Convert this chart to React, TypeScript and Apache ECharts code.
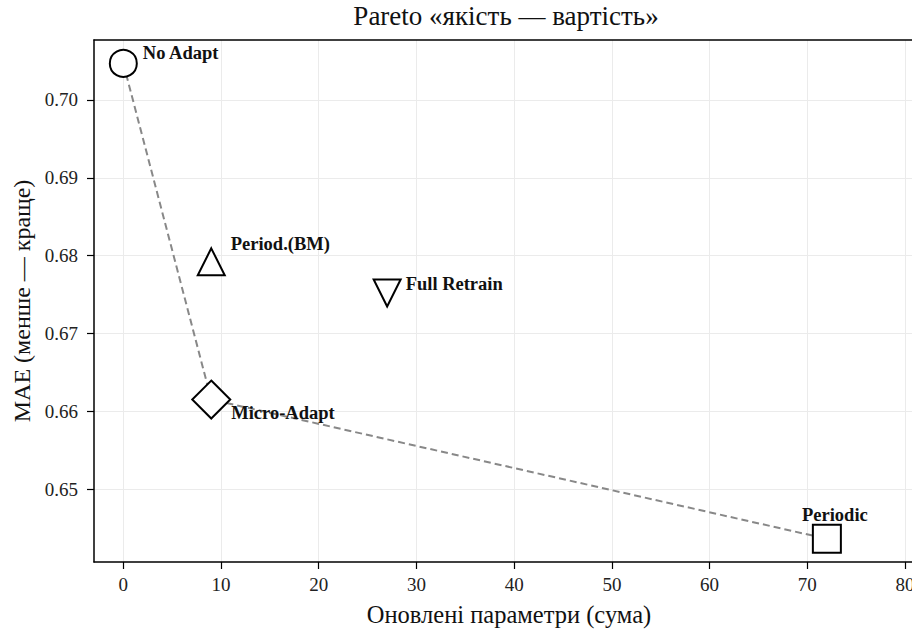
import React, { useEffect, useRef } from "react";
import * as echarts from "echarts";

const methods = ["No Adapt", "Period.(BM)", "Full Retrain", "Micro-Adapt", "Periodic"];
const updatedParams = [0, 9, 27, 9, 72];
const maeValues = [0.7047, 0.6792, 0.6752, 0.6615, 0.6436];
const paretoMethods = ["No Adapt", "Micro-Adapt", "Periodic"];
const xTicks = [0, 10, 20, 30, 40, 50, 60, 70, 80];
const yTicks = [0.65, 0.66, 0.67, 0.68, 0.69, 0.7];

const FONT = "Liberation Serif";

const markerStyle: Record<string, any> = {
  "No Adapt": { symbol: "circle", size: 27, rotate: 0, label: { position: "right", distance: 5, offset: [0, -10] } },
  "Period.(BM)": { symbol: "triangle", size: 27, rotate: 0, label: { position: "right", distance: 5, offset: [0, -18] } },
  "Full Retrain": { symbol: "triangle", size: 27, rotate: 180, label: { position: "right", distance: 4, offset: [0, -9] } },
  "Micro-Adapt": { symbol: "diamond", size: [38, 38], rotate: 0, label: { position: "right", distance: 0, offset: [0, 13] } },
  "Periodic": { symbol: "rect", size: 28, rotate: 0, label: { position: "top", distance: 1, offset: [8, 2] } },
};

export default function App() {
  const ref = useRef<HTMLDivElement>(null);
  useEffect(() => {
    if (!ref.current) return;
    const chart = echarts.init(ref.current, null, { renderer: "svg" });

    const scatterSeries = methods.map((m, i) => {
      const st = markerStyle[m];
      return {
        type: "scatter",
        name: m,
        xAxisIndex: 0,
        symbol: st.symbol,
        symbolSize: st.size,
        symbolRotate: st.rotate,
        z: 5,
        itemStyle: { color: "#ffffff", borderColor: "#000000", borderWidth: 2, opacity: 1 },
        label: {
          show: true,
          formatter: m,
          fontFamily: FONT,
          fontWeight: "bold",
          fontSize: 18.5,
          color: "#111",
          position: st.label.position,
          distance: st.label.distance,
          offset: st.label.offset,
        },
        data: [[updatedParams[i], maeValues[i]]],
      };
    });

    const paretoData = paretoMethods.map((m) => {
      const i = methods.indexOf(m);
      return [updatedParams[i], maeValues[i]];
    });

    const xMin = -3;
    const xMax = 81.94;

    chart.setOption({
      animation: false,
      backgroundColor: "#ffffff",
      title: {
        text: "Pareto «якість — вартість»",
        left: 506,
        top: 2,
        padding: 0,
        textAlign: "center",
        textStyle: { fontFamily: FONT, fontWeight: "normal", fontSize: 27, color: "#111" },
      },
      grid: {
        left: 94,
        top: 40,
        width: 830,
        height: 522,
        show: false,
        outerBoundsMode: "none",
        containLabel: false,
      },
      xAxis: [
        {
          type: "value",
          min: xMin,
          max: xMax,
          name: "Оновлені параметри (сума)",
          nameLocation: "middle",
          nameGap: 40,
          nameTextStyle: { fontFamily: FONT, fontSize: 24.5, color: "#111" },
          axisLine: { show: true, onZero: false, lineStyle: { color: "#000", width: 1.5 } },
          axisTick: { show: true, length: 7, customValues: xTicks, lineStyle: { color: "#000", width: 1.2 } },
          axisLabel: {
            customValues: xTicks,
            margin: 13,
            fontFamily: FONT,
            fontSize: 19,
            color: "#222",
            formatter: (v: number) => String(v),
          },
          splitLine: { show: true, lineStyle: { color: "#ebebeb", width: 1 } },
        },
        {
          type: "value",
          position: "top",
          min: xMin,
          max: xMax,
          axisLine: { show: true, onZero: false, lineStyle: { color: "#000", width: 1.5 } },
          axisTick: { show: false },
          axisLabel: { show: false },
          splitLine: { show: false },
        },
      ],
      yAxis: {
        type: "value",
        min: 0.64062,
        max: 0.70771,
        name: "MAE (менше — краще)",
        nameLocation: "middle",
        nameGap: 60,
        nameTextStyle: { fontFamily: FONT, fontSize: 24, color: "#111" },
        axisLine: { show: true, onZero: false, lineStyle: { color: "#000", width: 1.5 } },
        axisTick: { show: true, length: 7, customValues: yTicks, lineStyle: { color: "#000", width: 1.2 } },
        axisLabel: {
          customValues: yTicks,
          margin: 16,
          fontFamily: FONT,
          fontSize: 19,
          color: "#222",
          formatter: (v: number) => v.toFixed(2),
        },
        splitLine: { show: true, lineStyle: { color: "#ebebeb", width: 1 } },
      },
      series: [
        {
          type: "line",
          name: "Pareto",
          xAxisIndex: 0,
          data: paretoData,
          symbol: "none",
          z: 2,
          lineStyle: { color: "#888888", width: 2, type: [7, 4] },
        },
        ...scatterSeries,
      ],
    });
    return () => chart.dispose();
  }, []);
  return (
    <div
      ref={ref}
      style={{ position: "fixed", left: 0, top: 0, width: 912, height: 631, background: "#fff" }}
    />
  );
}
